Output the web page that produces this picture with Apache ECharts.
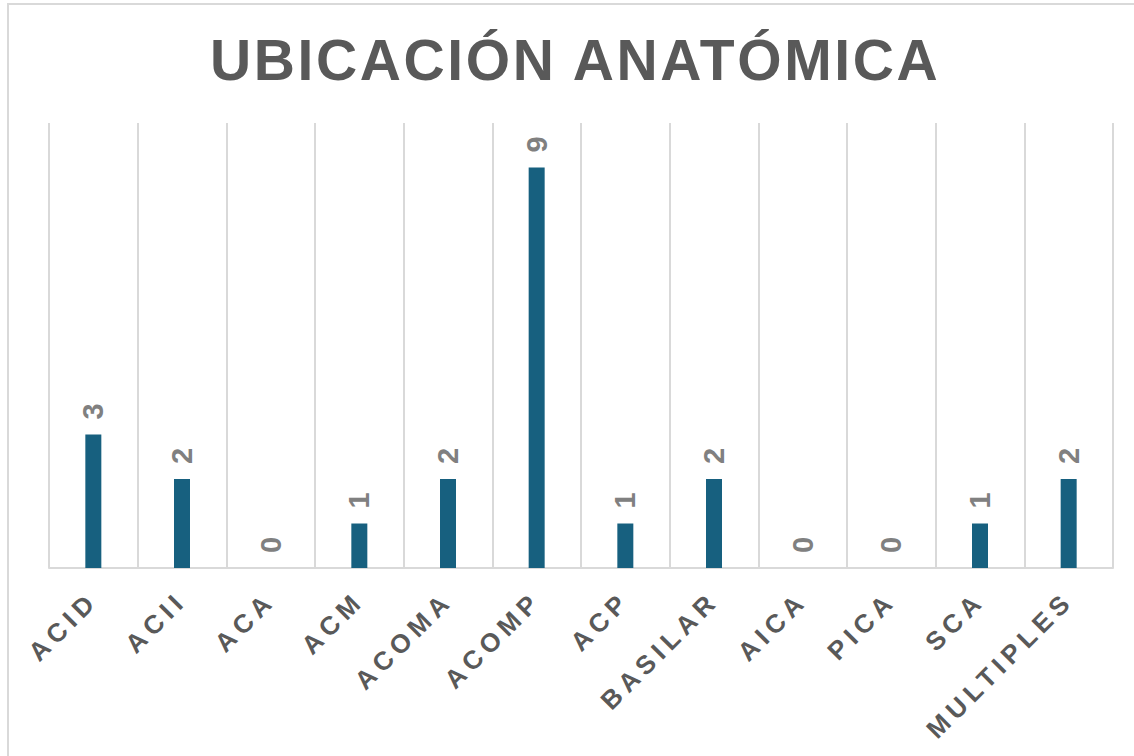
<!DOCTYPE html>
<html>
<head>
<meta charset="utf-8">
<script src="https://cdn.jsdelivr.net/npm/echarts@6/dist/echarts.min.js"></script>
<style>
html,body{margin:0;padding:0;background:#fff;}
#chart{width:1134px;height:756px;}
</style>
</head>
<body>
<div id="chart"></div>
<script>
const titleText = 'UBICACIÓN ANATÓMICA';
const categories = ['ACID','ACII','ACA','ACM','ACOMA','ACOMP','ACP','BASILAR','AICA','PICA','SCA','MULTIPLES'];
const values = [3, 2, 0, 1, 2, 9, 1, 2, 0, 0, 1, 2];

const FONT = '"Liberation Sans", Arial, sans-serif';
const TITLE_SIZE = 57, TITLE_SPACING = 2.6, TITLE_CENTER = 575;
const LABEL_SPACING = 5.5;

// measure title width so that its centre sits where the reference has it
const mctx = document.createElement('canvas').getContext('2d');
mctx.font = 'bold ' + TITLE_SIZE + 'px "Liberation Sans"';
const titleW = mctx.measureText(titleText).width + TITLE_SPACING * (titleText.length - 1);

const chart = echarts.init(document.getElementById('chart'), null, {renderer: 'svg'});
chart.setOption({
  animation: false,
  backgroundColor: '#ffffff',
  title: {
    text: titleText,
    left: Math.round(TITLE_CENTER - titleW / 2 - 5),
    top: 26,
    textStyle: {fontFamily: FONT, fontWeight: 'bold', fontSize: TITLE_SIZE, color: '#595959'}
  },
  graphic: [{
    type: 'rect',
    shape: {x: 8, y: 4, width: 1200, height: 800},
    style: {fill: 'none', stroke: '#d9d9d9', lineWidth: 2},
    silent: true
  }],
  grid: {left: 49, right: 21, top: 123, bottom: 188},
  xAxis: {
    type: 'category',
    data: categories,
    axisLine: {show: true, lineStyle: {color: '#d9d9d9', width: 2}},
    axisTick: {show: false},
    splitLine: {show: true, lineStyle: {color: '#d9d9d9', width: 2}},
    axisLabel: {
      interval: 0, rotate: 45, margin: 28,
      fontFamily: FONT, fontWeight: 'bold', fontSize: 26, color: '#595959'
    }
  },
  yAxis: {
    type: 'value', min: 0, max: 10,
    show: false,
    splitLine: {show: false}
  },
  series: [{
    type: 'bar',
    data: values,
    barWidth: 16,
    itemStyle: {color: '#17607f'},
    label: {
      show: true, position: 'top', rotate: 90, distance: 15,
      align: 'left', verticalAlign: 'middle',
      fontFamily: FONT, fontWeight: 'bold', fontSize: 29, color: '#808080'
    }
  }]
});

function applySpacing() {
  const texts = document.querySelectorAll('#chart svg text');
  texts.forEach(t => {
    const s = t.textContent;
    if (s === titleText) t.setAttribute('letter-spacing', String(TITLE_SPACING));
    else if (categories.indexOf(s) >= 0) t.setAttribute('letter-spacing', String(LABEL_SPACING));
  });
}
applySpacing();
chart.on('finished', applySpacing);
</script>
</body>
</html>
